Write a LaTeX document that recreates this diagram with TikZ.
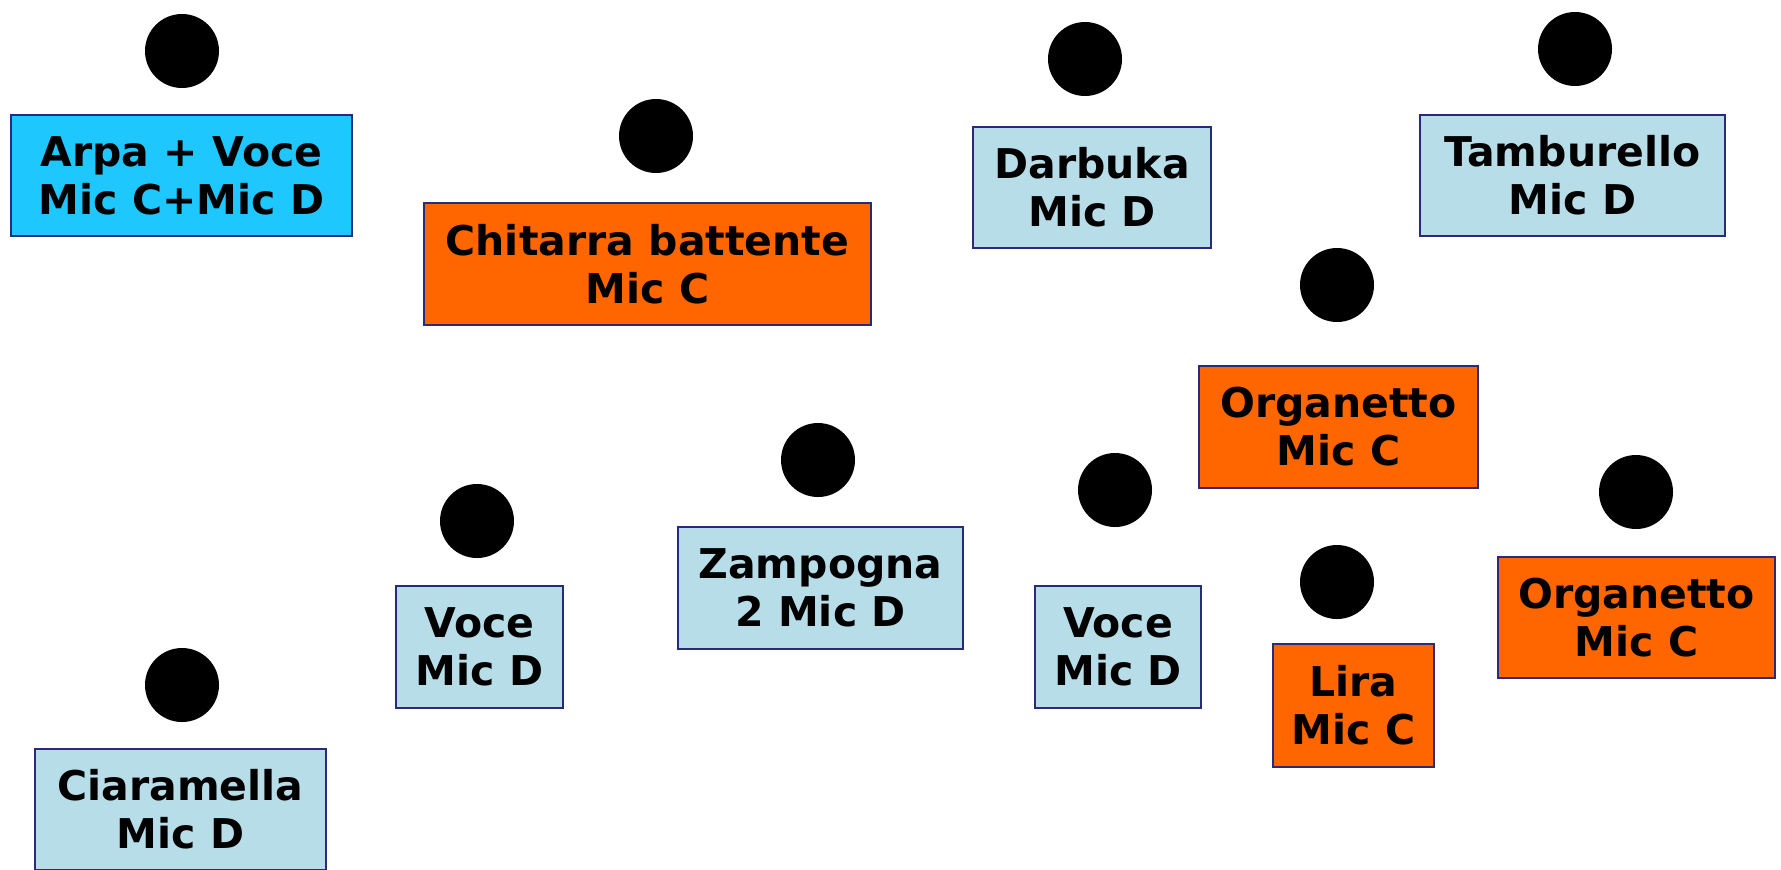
\documentclass[tikz,border=0pt]{standalone}
\usepackage{fontspec}
\setmainfont{DejaVu Sans}
\usetikzlibrary{positioning}

\definecolor{skyfill}{HTML}{1EC8FF}
\definecolor{palefill}{HTML}{B7DDE8}
\definecolor{orangefill}{HTML}{FF6600}
\definecolor{boxline}{HTML}{2A2A78}

\tikzset{
  instr/.style = {draw=boxline, line width=1pt, inner sep=0pt,
                  align=center, font=\fontsize{20.5}{24}\selectfont\bfseries},
  mic/.style   = {circle, fill=black, minimum size=37pt, inner sep=0pt},
  micc/.style  = {instr, fill=orangefill},
  micd/.style  = {instr, fill=palefill},
  mixed/.style = {instr, fill=skyfill}
}

\begin{document}
\begin{tikzpicture}[x=0.5pt,y=-0.5pt]
  \useasboundingbox (0,0) rectangle (1781,869);
  % instrument boxes
  \node[mixed, minimum width=170.5pt, minimum height=60.5pt] (arpa)
       at (181.5,175.5) {Arpa + Voce\\Mic C+Mic D};
  \node[micc, minimum width=223.5pt, minimum height=61pt] (chitarra)
       at (647.5,264) {Chitarra battente\\Mic C};
  \node[micd, minimum width=119pt, minimum height=60.5pt] (darbuka)
       at (1092,187.5) {Darbuka\\Mic D};
  \node[micd, minimum width=152.5pt, minimum height=60.5pt] (tamburello)
       at (1572.5,175.5) {Tamburello\\Mic D};
  \node[micc, minimum width=139.5pt, minimum height=61pt] (organettoA)
       at (1338.5,427) {Organetto\\Mic C};
  \node[micd, minimum width=142.5pt, minimum height=61pt] (zampogna)
       at (820.5,588) {Zampogna\\2 Mic D};
  \node[micd, minimum width=83.5pt, minimum height=61pt] (voceA)
       at (479.5,647) {Voce\\Mic D};
  \node[micd, minimum width=83pt, minimum height=61pt] (voceB)
       at (1118,647) {Voce\\Mic D};
  \node[micc, minimum width=80.5pt, minimum height=61.5pt] (lira)
       at (1353.5,705.5) {Lira\\Mic C};
  \node[micc, minimum width=138.5pt, minimum height=60.5pt] (organettoB)
       at (1636.5,617.5) {Organetto\\Mic C};
  \node[micd, minimum width=145.5pt, minimum height=60.5pt] (ciaramella)
       at (180.5,809.5) {Ciaramella\\Mic D};
  % microphones
  \node[mic] (m-arpa)       at (182,51)   {};
  \node[mic] (m-chitarra)   at (656,136)  {};
  \node[mic] (m-darbuka)    at (1085,59)  {};
  \node[mic] (m-tamburello) at (1575,49)  {};
  \node[mic] (m-organettoA) at (1337,285) {};
  \node[mic] (m-zampogna)   at (818,460)  {};
  \node[mic] (m-voceA)      at (477,521)  {};
  \node[mic] (m-voceB)      at (1115,490) {};
  \node[mic] (m-lira)       at (1337,582) {};
  \node[mic] (m-organettoB) at (1636,492) {};
  \node[mic] (m-ciaramella) at (182,685)  {};
\end{tikzpicture}
\end{document}
